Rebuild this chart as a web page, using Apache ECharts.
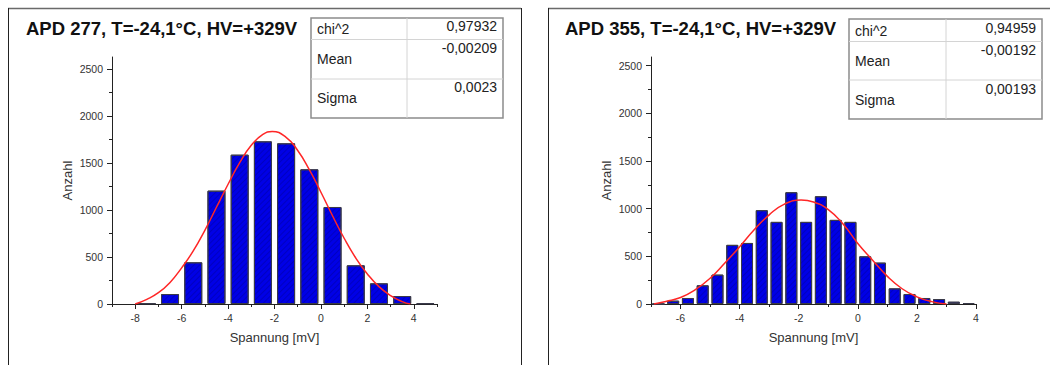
<!DOCTYPE html>
<html><head><meta charset="utf-8">
<script src="https://cdn.jsdelivr.net/npm/echarts@6/dist/echarts.min.js"></script>
<style>html,body{margin:0;padding:0;background:#fff}#c{width:1050px;height:365px}</style>
</head><body><div id="c"></div>
<script>
// ---------- data ----------
const leftTitle = 'APD 277, T=-24,1°C, HV=+329V';
const rightTitle = 'APD 355, T=-24,1°C, HV=+329V';
const xName = 'Spannung [mV]';
const yName = 'Anzahl';
const statLabels = ['chi^2', 'Mean', 'Sigma'];
const leftStats = ['0,97932', '-0,00209', '0,0023'];
const rightStats = ['0,94959', '-0,00192', '0,00193'];

const leftBinCenters = [-7.5, -6.5, -5.5, -4.5, -3.5, -2.5, -1.5, -0.5, 0.5, 1.5, 2.5, 3.5, 4.5];
const leftCounts = [8, 106, 444, 1207, 1590, 1732, 1711, 1434, 1033, 412, 220, 85, 8];
const leftFitX = [-8, -7.5, -7, -6.5, -6, -5.5, -5, -4.5, -4, -3.5, -3, -2.5, -2.1, -1.5, -1, -0.5, 0, 0.5, 1, 1.5, 2, 2.5, 3, 3.5, 3.85];
const leftFitY = [0, 50, 120, 230, 385, 565, 785, 1030, 1275, 1505, 1690, 1805, 1837, 1775, 1635, 1430, 1190, 940, 700, 490, 320, 185, 90, 25, 0];

const rightBinCenters = [-6.75, -6.25, -5.75, -5.25, -4.75, -4.25, -3.75, -3.25, -2.75, -2.25, -1.75, -1.25, -0.75, -0.25, 0.25, 0.75, 1.25, 1.75, 2.25, 2.75, 3.25, 3.75];
const rightCounts = [0, 35, 63, 196, 308, 620, 640, 984, 861, 1172, 861, 1130, 882, 861, 500, 434, 164, 105, 63, 52, 24, 10];
const rightFitX = [-6.9, -6.5, -6, -5.5, -5, -4.5, -4, -3.5, -3, -2.5, -1.92, -1.5, -1, -0.5, 0, 0.5, 1, 1.5, 2, 2.5, 3];
const rightFitY = [0, 27, 68, 150, 270, 430, 600, 780, 935, 1045, 1090, 1070, 990, 840, 635, 460, 290, 160, 75, 25, 0];

const leftXTicks = [-8, -6, -4, -2, 0, 2, 4];
const leftXMinor = [-9, -7, -5, -3, -1, 1, 3, 5];
const rightXTicks = [-6, -4, -2, 0, 2, 4];
const rightXMinor = [-7, -5, -3, -1, 1, 3];
const yTicks = [0, 500, 1000, 1500, 2000, 2500];
const yMinor = [250, 750, 1250, 1750, 2250];

// ---------- chart ----------
const FONT = '"Liberation Sans", Arial, sans-serif';
const AX = '#222';
const plain = v => String(v);

function xMain(g, min, max, ticks) {
  return { type: 'value', gridIndex: g, min: min, max: max, position: 'bottom',
    axisLine: { show: true, onZero: false, lineStyle: { color: AX, width: 1 } },
    axisTick: { show: true, inside: false, length: 5, customValues: ticks, lineStyle: { color: AX, width: 1 } },
    axisLabel: { show: true, customValues: ticks, formatter: plain, margin: 8, color: '#333', fontSize: 10.5, fontFamily: FONT },
    splitLine: { show: false },
    name: xName, nameLocation: 'middle', nameGap: 27,
    nameTextStyle: { color: '#333', fontSize: 13, fontFamily: FONT } };
}
function xMinor(g, min, max, ticks) {
  return { type: 'value', gridIndex: g, min: min, max: max, position: 'bottom',
    axisLine: { show: false, onZero: false },
    axisTick: { show: true, inside: false, length: 3, customValues: ticks, lineStyle: { color: AX, width: 1 } },
    axisLabel: { show: false }, splitLine: { show: false } };
}
function yMain(g, max) {
  return { type: 'value', gridIndex: g, min: 0, max: max, position: 'left',
    axisLine: { show: true, onZero: false, lineStyle: { color: AX, width: 1 } },
    axisTick: { show: true, inside: false, length: 5, customValues: yTicks, lineStyle: { color: AX, width: 1 } },
    axisLabel: { show: true, customValues: yTicks, formatter: plain, margin: 9, color: '#333', fontSize: 10.5, fontFamily: FONT },
    splitLine: { show: false },
    name: yName, nameLocation: 'middle', nameGap: 38, nameRotate: 90,
    nameTextStyle: { color: '#333', fontSize: 13, fontFamily: FONT } };
}
function yMinorAx(g, max) {
  return { type: 'value', gridIndex: g, min: 0, max: max, position: 'left',
    axisLine: { show: false, onZero: false },
    axisTick: { show: true, inside: false, length: 3, customValues: yMinor, lineStyle: { color: AX, width: 1 } },
    axisLabel: { show: false }, splitLine: { show: false } };
}

const decal = { symbol: 'rect', symbolSize: 1, dashArrayX: [1, 0], dashArrayY: [1, 3], rotation: -Math.PI / 4, color: 'rgba(0,0,110,0.3)' };
function barSeries(xi, centers, counts, w) {
  return { type: 'bar', xAxisIndex: xi, yAxisIndex: xi, barWidth: w,
    data: centers.map((c, i) => [c, counts[i]]),
    itemStyle: { color: '#0000e6', borderColor: '#3a3a4a', borderWidth: 1, decal: decal },
    silent: true, z: 2 };
}
function fitSeries(xi, xs, ys) {
  return { type: 'line', xAxisIndex: xi, yAxisIndex: xi, smooth: true, showSymbol: false,
    data: xs.map((x, i) => [x, ys[i]]),
    lineStyle: { color: '#ff2626', width: 1.5 }, silent: true, z: 5 };
}

function table(x, y, w, h, colX, r1, r2, lx, vx, labY, valY, vals) {
  const els = [];
  els.push({ type: 'rect', shape: { x: x, y: y, width: w, height: h }, style: { fill: '#fff', stroke: '#8c8c8c', lineWidth: 1.5 }, z: 10 });
  els.push({ type: 'line', shape: { x1: colX, y1: y, x2: colX, y2: y + h }, style: { stroke: '#d4d4d4', lineWidth: 1 }, z: 11 });
  els.push({ type: 'line', shape: { x1: x, y1: r1, x2: x + w, y2: r1 }, style: { stroke: '#d4d4d4', lineWidth: 1 }, z: 11 });
  els.push({ type: 'line', shape: { x1: x, y1: r2, x2: x + w, y2: r2 }, style: { stroke: '#d4d4d4', lineWidth: 1 }, z: 11 });
  for (let i = 0; i < 3; i++) {
    els.push({ type: 'text', x: lx, y: labY[i], z: 12, style: { text: statLabels[i], align: 'left', verticalAlign: 'middle', font: '14px ' + FONT, fill: '#222' } });
    els.push({ type: 'text', x: vx, y: valY[i], z: 12, style: { text: vals[i], align: 'right', verticalAlign: 'middle', font: '14px ' + FONT, fill: '#222' } });
  }
  return els;
}

const graphics = [
  // panel frames
  { type: 'line', shape: { x1: 8, y1: 8.5, x2: 521, y2: 8.5 }, style: { stroke: '#6a6a6a', lineWidth: 1.5 } },
  { type: 'line', shape: { x1: 8.5, y1: 8, x2: 8.5, y2: 365 }, style: { stroke: '#222', lineWidth: 1 } },
  { type: 'line', shape: { x1: 521.5, y1: 8, x2: 521.5, y2: 365 }, style: { stroke: '#222', lineWidth: 1 } },
  { type: 'line', shape: { x1: 548, y1: 8.5, x2: 1050, y2: 8.5 }, style: { stroke: '#6a6a6a', lineWidth: 1.5 } },
  { type: 'line', shape: { x1: 548.5, y1: 8, x2: 548.5, y2: 365 }, style: { stroke: '#222', lineWidth: 1 } },
  { type: 'text', x: 26, y: 28, style: { text: leftTitle, align: 'left', verticalAlign: 'middle', font: 'bold 18.5px ' + FONT, fill: '#111' } },
  { type: 'text', x: 565, y: 28, style: { text: rightTitle, align: 'left', verticalAlign: 'middle', font: 'bold 18.5px ' + FONT, fill: '#111' } }
].concat(
  table(311, 18, 192, 100, 407, 39.5, 79, 317, 497, [28.5, 59, 98], [26, 48, 87], leftStats),
  table(849, 19, 193, 100, 946, 41.5, 80, 855, 1036, [30.5, 61, 99.5], [28, 50, 88.5], rightStats)
);

const option = {
  animation: false,
  backgroundColor: '#fff',
  grid: [
    { left: 112, top: 57, width: 325, height: 247 },
    { left: 651, top: 57, width: 325, height: 247 }
  ],
  xAxis: [xMain(0, -9, 5, leftXTicks), xMinor(0, -9, 5, leftXMinor), xMain(1, -7, 4, rightXTicks), xMinor(1, -7, 4, rightXMinor)],
  yAxis: [yMain(0, 2630), yMinorAx(0, 2630), yMain(1, 2590), yMinorAx(1, 2590)],
  series: [
    barSeries(0, leftBinCenters, leftCounts, 18),
    fitSeries(0, leftFitX, leftFitY),
    barSeries(2, rightBinCenters, rightCounts, 12),
    fitSeries(2, rightFitX, rightFitY)
  ],
  graphic: graphics
};
const chart = echarts.init(document.getElementById('c'), null, { renderer: 'svg' });
chart.setOption(option);
</script>
</body></html>
